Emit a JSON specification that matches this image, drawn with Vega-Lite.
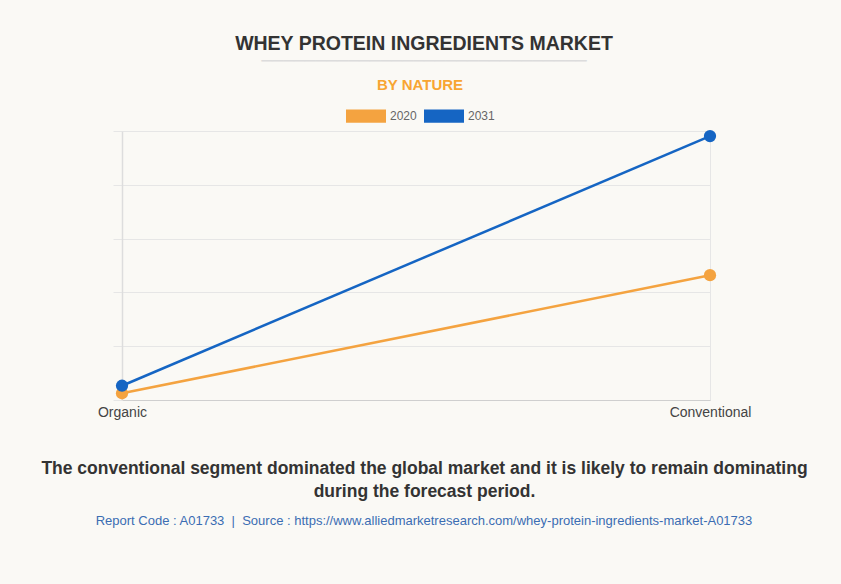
{
  "$schema": "https://vega.github.io/schema/vega-lite/v6.json",
  "background": "#faf9f5",
  "padding": {"left": 40, "top": 33, "right": 44, "bottom": 70},
  "title": {
    "text": "WHEY PROTEIN INGREDIENTS MARKET",
    "subtitle": "──────────────────────────────",
    "anchor": "middle",
    "frame": "group",
    "dx": 8,
    "font": "Liberation Sans",
    "fontSize": 19.5,
    "fontWeight": "bold",
    "color": "#333333",
    "subtitleFont": "DejaVu Sans Mono",
    "subtitleFontSize": 18,
    "subtitleColor": "#dcdcdc",
    "subtitlePadding": -1,
    "offset": 6
  },
  "config": {
    "view": {"stroke": null},
    "font": "Liberation Sans"
  },
  "vconcat": [
    {
      "width": 588,
      "height": 269,
      "title": {
        "text": "Report Code : A01733\u00a0\u00a0|\u00a0\u00a0Source : https://www.alliedmarketresearch.com/whey-protein-ingredients-market-A01733",
        "orient": "bottom",
        "anchor": "middle",
        "frame": "group",
        "dx": 8,
        "font": "Liberation Sans",
        "fontSize": 13,
        "fontWeight": "normal",
        "color": "#3b6db3",
        "offset": 15
      },
      "data": {
        "values": [
          {"nature": "Organic", "year": "2020", "value": 2.5},
          {"nature": "Organic", "year": "2031", "value": 5.3},
          {"nature": "Conventional", "year": "2020", "value": 46.4},
          {"nature": "Conventional", "year": "2031", "value": 98.1}
        ]
      },
      "encoding": {
        "x": {
          "field": "nature",
          "type": "nominal",
          "sort": ["Organic", "Conventional"],
          "scale": {"type": "point", "padding": 0},
          "axis": {
            "labelAngle": 0,
            "labelFontSize": 14,
            "labelColor": "#444444",
            "labelPadding": 5,
            "ticks": false,
            "domainColor": "#cfcfcf",
            "grid": true,
            "gridColor": "#e6e6e6",
            "title": ["The conventional segment dominated the global market and it is likely to remain dominating", "during the forecast period."],
            "titleFontSize": 17.5,
            "titleFontWeight": "bold",
            "titleColor": "#333333",
            "titlePadding": 40,
            "titleLineHeight": 23,
            "titleX": 302,
            "titleAlign": "center"
          }
        },
        "y": {
          "field": "value",
          "type": "quantitative",
          "scale": {"domain": [0, 100]},
          "axis": {
            "values": [0, 20, 40, 60, 80, 100],
            "labels": false,
            "title": null,
            "domainColor": "#dddddd",
            "domainWidth": 1.5,
            "tickColor": "#e6e6e6",
            "tickSize": 9,
            "gridColor": "#e6e6e6"
          }
        },
        "color": {
          "field": "year",
          "type": "nominal",
          "scale": {"domain": ["2020", "2031"], "range": ["#f4a340", "#1565c3"]},
          "legend": {
            "orient": "none",
            "legendX": 224,
            "legendY": -53,
            "direction": "horizontal",
            "title": "BY NATURE",
            "titleOrient": "top",
            "titleAnchor": "middle",
            "titleFontSize": 15,
            "titleFontWeight": "bold",
            "titleColor": "#f8a532",
            "titlePadding": 3,
            "symbolType": "M-1,-0.33H1V0.33H-1Z",
            "symbolSize": 1600,
            "symbolStrokeWidth": 0,
            "symbolOpacity": 1,
            "labelFontSize": 12,
            "labelColor": "#666666",
            "labelOffset": 4,
            "columnPadding": 7
          }
        }
      },
      "layer": [
        {"mark": {"type": "line", "strokeWidth": 2.5}},
        {"mark": {"type": "point", "filled": true, "size": 150, "opacity": 1}}
      ]
    }
  ],
  "bounds": "flush"
}
